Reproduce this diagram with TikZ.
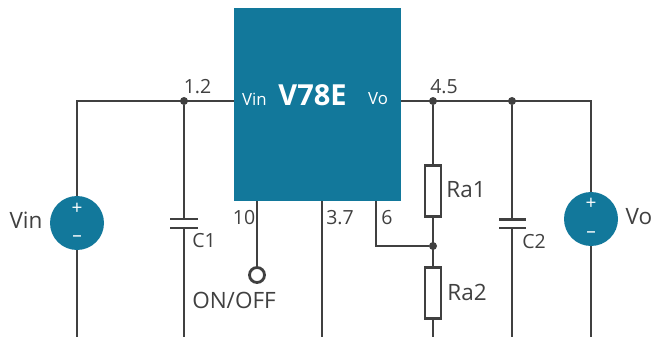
\documentclass[tikz,border=0pt]{standalone}
\usepackage{fontspec}
\setmainfont{Open Sans}
\definecolor{teal}{HTML}{12789B}
\definecolor{wire}{HTML}{404040}
\tikzset{x=1pt,y=-1pt,
  wireline/.style={draw=wire,line width=2.8pt},
  dotnode/.style={circle,fill=wire,inner sep=0pt,minimum size=8pt},
  res/.style={draw=wire,line width=2.8pt,fill=white,minimum width=16pt,minimum height=51pt,inner sep=0pt},
  src/.style={circle,fill=teal,minimum size=54pt,inner sep=0pt},
  lab/.style={text=wire,inner sep=0pt,font=\fontsize{22.5}{24}\selectfont},
  pin/.style={text=wire,inner sep=0pt,font=\fontsize{19.5}{22}\selectfont},
  chiplab/.style={text=white,inner sep=0pt,font=\fontsize{16.8}{20}\selectfont},
  sign/.style={text=white,inner sep=0pt,font=\fontsize{19}{20}\selectfont},
  plate/.style={draw=wire,line width=2.8pt}
}
\begin{document}
\begin{tikzpicture}
\useasboundingbox (0,0) rectangle (657,337);
\coordinate (vinB) at (77,337);
\coordinate (vinT) at (77,101);
\coordinate (c1B) at (184,337);
\coordinate (c1T) at (184,219);
\coordinate (c1L) at (184,228);
\coordinate (p3) at (322,337);
\coordinate (p3T) at (322,201);
\coordinate (p10T) at (257,201);
\coordinate (p6T) at (376,201);
\coordinate (corner6) at (376,246);
\coordinate (voT) at (591,101);
\coordinate (voB) at (591,337);
\coordinate (c2U) at (512,219);
\coordinate (c2L) at (512,228);
\coordinate (c2B) at (512,337);
\coordinate (ra2E) at (433,337);
\node[fill=teal,minimum width=167pt,minimum height=193pt,inner sep=0pt] (chip) at (317.5,104.5) {};
\coordinate (chipL) at (234,101);
\coordinate (chipR) at (401,101);
\node[src] (vin) at (77,223) {};
\node[src] (vo) at (591,219) {};
\node[res] (ra1) at (433,191) {};
\node[res] (ra2) at (433,293) {};
\node[dotnode] (d1) at (184,101) {};
\node[dotnode] (d4) at (433,101) {};
\node[dotnode] (d5) at (512,101) {};
\node[dotnode] (d6) at (433,246) {};
\node[circle,draw=wire,line width=2.8pt,fill=white,minimum size=15pt,inner sep=0pt] (sw) at (257,275) {};
% wires
\draw[wireline] (vin.north) -- (vinT) -- (chipL);
\draw[wireline] (vin.south) -- (vinB);
\draw[wireline] (d1) -- (c1T);
\draw[wireline] (c1L) -- (c1B);
\draw[plate] (170,219) -- (198,219);
\draw[plate] (170,228) -- (198,228);
\draw[wireline] (p10T) -- (sw);
\draw[wireline] (p3T) -- (p3);
\draw[wireline] (p6T) -- (corner6) -- (d6);
\draw[wireline] (chipR) -- (voT) -- (vo.north);
\draw[wireline] (vo.south) -- (voB);
\draw[wireline] (d4) -- (ra1);
\draw[wireline] (ra1) -- (ra2);
\draw[wireline] (ra2) -- (ra2E);
\draw[wireline] (d5) -- (c2U);
\draw[wireline] (c2L) -- (c2B);
\draw[plate] (499,219.5) -- (526,219.5);
\draw[plate] (499,228) -- (526,228);
\node[res] at (ra1) {};
\node[res] at (ra2) {};
% labels
\node[lab] (tvin) at (26,220) {Vin};
\node[lab] (tvo) at (639,217) {Vo};
\node[sign] (vinp) at (77,209) {+};
\node[sign] (vinm) at (77,239) {–};
\node[sign] (vop) at (591,204) {+};
\node[sign] (vom) at (591,235) {–};
\node[text=white,inner sep=0pt,font=\bfseries\fontsize{29}{32}\selectfont] (tchip) at (312.5,95) {V78E};
\node[chiplab] (tcvin) at (254.5,99) {Vin};
\node[chiplab] (tcvo) at (378,99) {Vo};
\node[pin] (t12) at (197.5,87) {1.2};
\node[pin] (t45) at (444,87) {4.5};
\node[pin] (t10) at (244,218) {10};
\node[pin] (t37) at (340,218) {3.7};
\node[pin] (t6) at (387,218) {6};
\node[pin] (tc1) at (204,241) {C1};
\node[pin] (tc2) at (534,242) {C2};
\node[lab] (tra1) at (466,190) {Ra1};
\node[lab] (tra2) at (467,292) {Ra2};
\node[lab] (ton) at (234,300) {ON/OFF};
\end{tikzpicture}
\end{document}
